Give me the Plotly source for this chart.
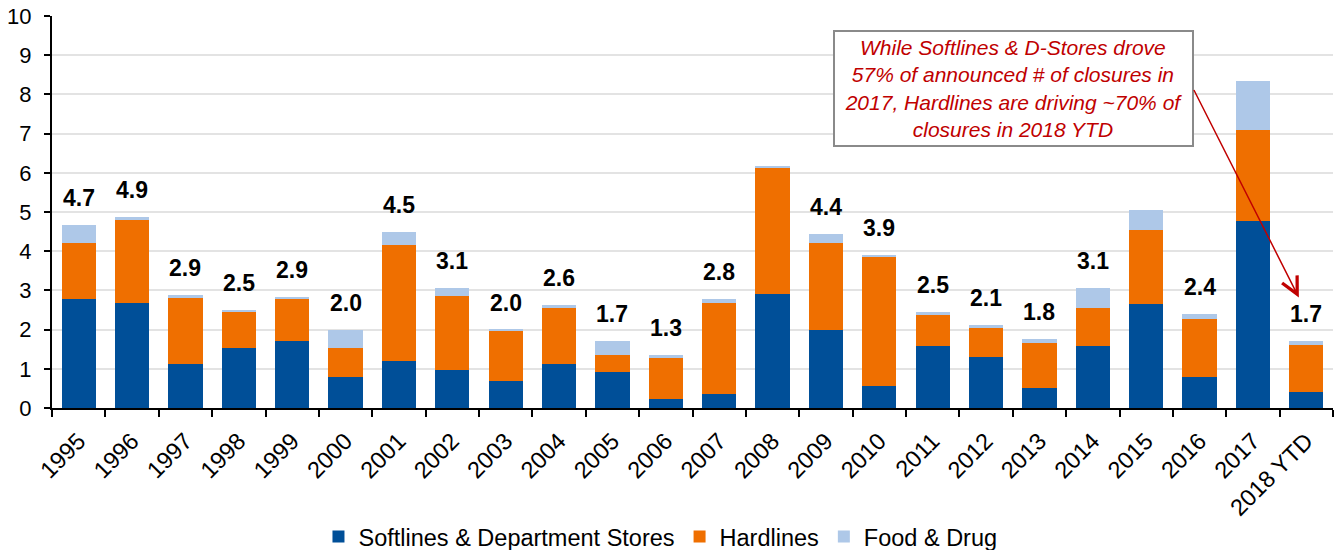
import plotly.graph_objects as go

categories = ["1995", "1996", "1997", "1998", "1999", "2000", "2001", "2002", "2003",
              "2004", "2005", "2006", "2007", "2008", "2009", "2010", "2011", "2012",
              "2013", "2014", "2015", "2016", "2017", "2018 YTD"]

softlines = [2.77, 2.67, 1.11, 1.52, 1.72, 0.78, 1.21, 0.98, 0.70, 1.11, 0.93, 0.22,
             0.37, 2.90, 1.98, 0.55, 1.57, 1.31, 0.52, 1.57, 2.66, 0.80, 4.77, 0.42]
hardlines = [1.45, 2.12, 1.72, 0.94, 1.05, 0.76, 2.94, 1.89, 1.28, 1.45, 0.41, 1.07,
             2.30, 3.24, 2.22, 3.29, 0.81, 0.72, 1.13, 0.97, 1.87, 1.48, 2.31, 1.20]
food_drug = [0.46, 0.07, 0.05, 0.03, 0.07, 0.44, 0.33, 0.20, 0.02, 0.08, 0.36, 0.05,
             0.12, 0.02, 0.25, 0.07, 0.08, 0.10, 0.12, 0.53, 0.53, 0.11, 1.27, 0.10]
total_labels = ["4.7", "4.9", "2.9", "2.5", "2.9", "2.0", "4.5", "3.1", "2.0", "2.6",
                "1.7", "1.3", "2.8", "", "4.4", "3.9", "2.5", "2.1", "1.8", "3.1",
                "", "2.4", "", "1.7"]

note_lines = ["While Softlines & D-Stores drove",
              "57% of announced # of closures in",
              "2017, Hardlines are driving ~70% of",
              "closures in 2018 YTD"]

FONT = "Arial, Liberation Sans, sans-serif"
BLUE = "#004f98"
ORANGE = "#ef6f00"
LIGHT = "#aec8e8"
RED = "#c00000"

fig = go.Figure()
for name, vals, col in [("Softlines & Department Stores", softlines, BLUE),
                        ("Hardlines", hardlines, ORANGE),
                        ("Food & Drug", food_drug, LIGHT)]:
    fig.add_trace(go.Bar(x=categories, y=vals, name=name, marker=dict(color=col, line=dict(width=0))))

totals = [a + b + c for a, b, c in zip(softlines, hardlines, food_drug)]
annotations = []
for i, (tot, lab) in enumerate(zip(totals, total_labels)):
    if lab:
        annotations.append(dict(xref="x", yref="y", x=i, y=tot, text="<b>" + lab + "</b>",
                                showarrow=False, xanchor="center", yanchor="middle", yshift=27,
                                font=dict(family=FONT, size=23, color="black")))

# callout box
annotations.append(dict(xref="paper", yref="y", x=0.7504, y=8.16,
                        xanchor="center", yanchor="middle",
                        text="<br>".join("<i>" + l + "</i>" for l in note_lines),
                        showarrow=False, align="center",
                        font=dict(family=FONT, size=21, color=RED),
                        bgcolor="white", bordercolor="#8a8a8a", borderwidth=2,
                        width=357, height=113, borderpad=0))
# arrow
annotations.append(dict(xref="x", yref="y", axref="x", ayref="y",
                        x=22.86, y=2.82, ax=20.88, ay=8.15, text="",
                        showarrow=True, arrowhead=5, arrowsize=2.2, arrowwidth=1.5,
                        arrowcolor=RED, standoff=0, startstandoff=0))

fig.update_layout(
    barmode="stack", bargap=0.36,
    width=1335, height=550,
    margin=dict(l=52, r=2, t=16, b=142, autoexpand=False),
    plot_bgcolor="white", paper_bgcolor="white",
    font=dict(family=FONT, size=22, color="black"),
    showlegend=True,
    legend=dict(orientation="h", x=0.475, xanchor="center",
                yref="container", y=0.024, yanchor="middle",
                font=dict(size=23.5), traceorder="normal"),
    annotations=annotations,
)
fig.update_xaxes(type="category", range=[-0.5, len(categories) - 0.5], automargin=False,
                 showline=True, linecolor="black", linewidth=2,
                 ticks="outside", tickson="boundaries", ticklen=7, tickwidth=2, tickcolor="black",
                 ticklabelstandoff=8,
                 tickangle=-45, tickfont=dict(size=23.5), showgrid=False)
fig.update_yaxes(range=[0, 10], dtick=1, automargin=False, showline=True, linecolor="black", linewidth=2,
                 ticks="outside", ticklen=6, tickwidth=2, tickcolor="black", ticklabelstandoff=8,
                 showgrid=True, gridcolor="#e3e3e3", gridwidth=2, zeroline=False,
                 tickfont=dict(size=22))

fig.write_html("out.html")
